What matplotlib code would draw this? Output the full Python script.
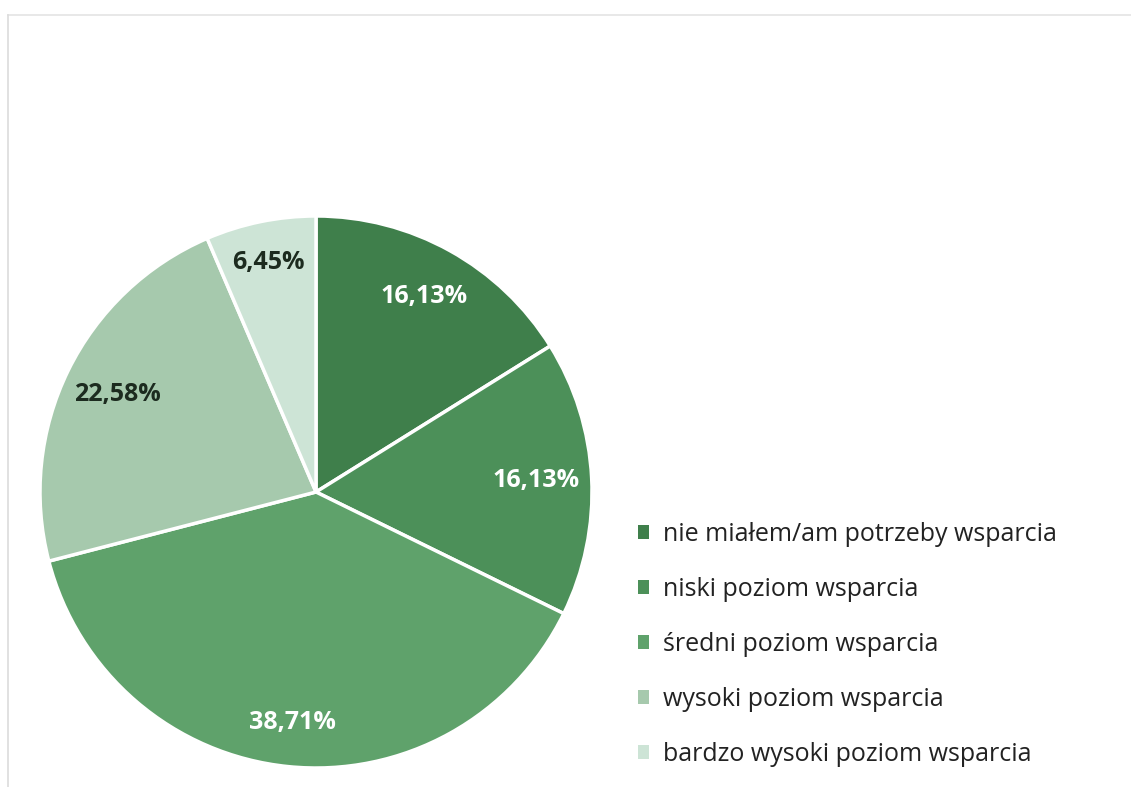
import matplotlib
matplotlib.use("Agg")
import numpy as np
import matplotlib.pyplot as plt
from matplotlib.lines import Line2D
from matplotlib.patches import Patch

categories = [
    "nie miałem/am potrzeby wsparcia",
    "niski poziom wsparcia",
    "średni poziom wsparcia",
    "wysoki poziom wsparcia",
    "bardzo wysoki poziom wsparcia",
]
shares = [16.13, 16.13, 38.71, 22.58, 6.45]
slice_colors = ["#3f7f4b", "#4c9059", "#5fa26b", "#a6c9ad", "#cde4d6"]
label_colors = ["white", "white", "white", "#1c2b1f", "#1c2b1f"]
label_radius = [0.81, 0.80, 0.84, 0.80, 0.85]

W, H, DPI = 1131, 787, 100
fig = plt.figure(figsize=(W / DPI, H / DPI), dpi=DPI)
fig.patch.set_facecolor("white")

# pie centred at (316, 492) px with radius ~276 px
cx, cy, r = 316, 492, 276
ax = fig.add_axes([(cx - r) / W, 1 - (cy + r) / H, 2 * r / W, 2 * r / H])
ax.set_aspect("equal")

wedges, texts = ax.pie(
    shares,
    colors=slice_colors,
    startangle=90,
    counterclock=False,
    radius=1.0,
    wedgeprops=dict(edgecolor="white", linewidth=2.5),
)

# percentage labels placed along each wedge's mid-angle
for w, val, col, rad in zip(wedges, shares, label_colors, label_radius):
    mid = np.deg2rad((w.theta1 + w.theta2) / 2)
    ax.text(rad * np.cos(mid), rad * np.sin(mid),
            f"{val:.2f}%".replace(".", ","),
            ha="center", va="center", color=col,
            fontfamily="Open Sans", fontweight="bold", fontsize=18)

ax.set_xlim(-1.0, 1.0)
ax.set_ylim(-1.0, 1.0)

# legend on the right
handles = [Patch(facecolor=c, edgecolor="none") for c in slice_colors]
leg = fig.legend(
    handles,
    categories,
    loc="upper left",
    bbox_to_anchor=(638 / W, 1 - 522 / H),
    frameon=False,
    borderpad=0,
    borderaxespad=0,
    prop=dict(family="Open Sans", size=18),
    labelcolor="#222222",
    handlelength=0.45,
    handleheight=0.45,
    handletextpad=0.55,
    labelspacing=1.2,
)

# faint frame lines at top and left
fig.add_artist(Line2D([8 / W, 1.0], [1 - 15 / H, 1 - 15 / H], color="#e4e4e4", lw=1.2))
fig.add_artist(Line2D([8 / W, 8 / W], [0.0, 1 - 15 / H], color="#dcdcdc", lw=1.2))

fig.savefig("out.png", dpi=DPI, facecolor="white")
